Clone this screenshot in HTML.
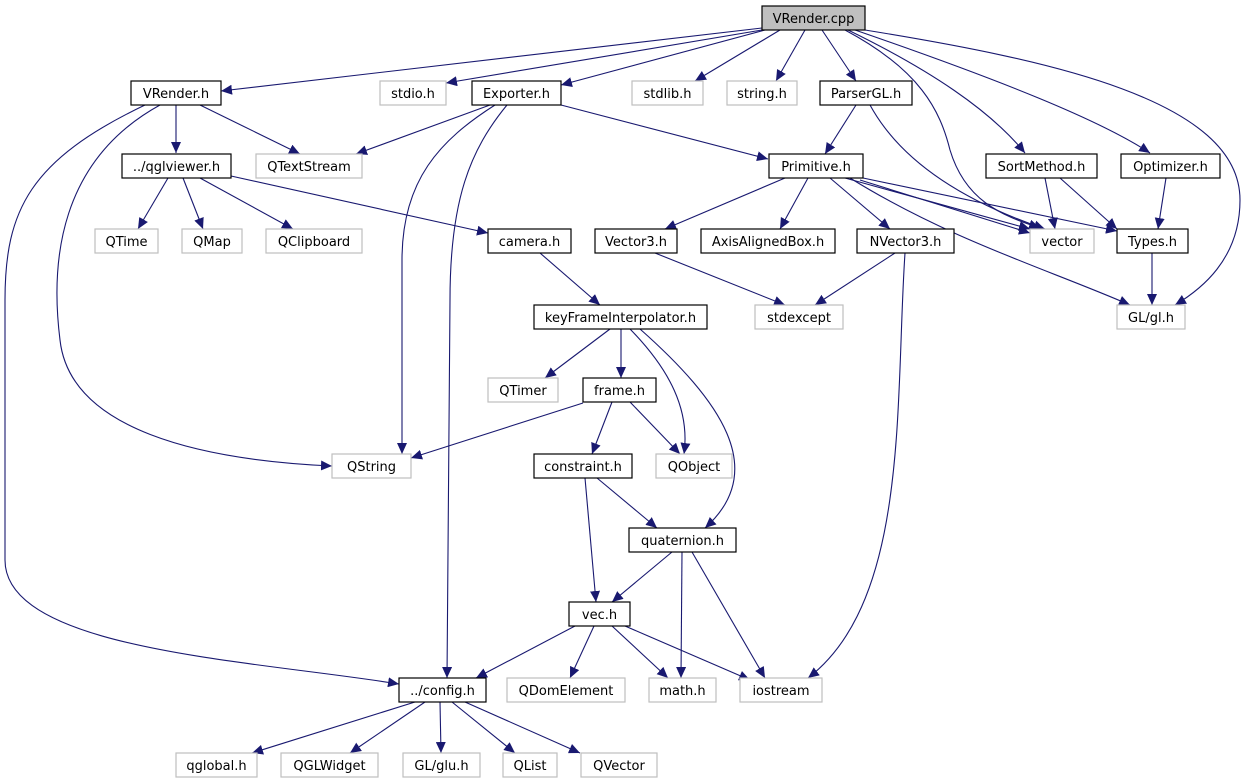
<!DOCTYPE html>
<html><head><meta charset="utf-8"><style>
html,body{margin:0;padding:0;background:#fff}
svg{display:block}
text{font-family:"DejaVu Sans","Liberation Sans",sans-serif;font-size:13px;text-anchor:middle}
.n rect{fill:#fff;stroke:#000;stroke-width:1.2}
.g rect{fill:#fff;stroke:#bfbfbf;stroke-width:1.2}
.e path{fill:none;stroke:#191970;stroke-width:1.1;marker-end:url(#a)}
</style></head><body>
<svg width="1247" height="784" viewBox="0 0 1247 784" xmlns="http://www.w3.org/2000/svg">
<defs><marker id="a" markerUnits="userSpaceOnUse" markerWidth="12" markerHeight="10" refX="11" refY="5" orient="auto"><path d="M0,0 L11,5 L0,10 Z" fill="#191970"/></marker></defs>
<g class="e">
<path d="M762,28 L221,91"/>
<path d="M762,30 L446,83"/>
<path d="M765,30 L561,85"/>
<path d="M780,30 L695,81"/>
<path d="M805,30 L776,81"/>
<path d="M822,30 L856,81"/>
<path d="M845,30 C920,70 940,110 950,150 C965,200 1000,215 1040,228"/>
<path d="M848,30 C930,70 990,110 1025,153"/>
<path d="M855,30 C1000,80 1100,120 1150,153"/>
<path d="M865,30 C1050,60 1240,100 1240,200 C1240,260 1200,290 1175,305"/>
<path d="M176,105 L176,153"/>
<path d="M200,105 L300,154"/>
<path d="M160,105 C60,160 50,260 60,340 C70,430 200,460 332,466"/>
<path d="M145,105 C30,160 5,210 5,300 L5,560 C5,650 250,660 399,684"/>
<path d="M490,105 L356,154"/>
<path d="M495,105 C440,140 402,180 402,260 L402,454"/>
<path d="M507,105 C470,150 450,200 450,300 L447,678"/>
<path d="M561,105 L768,159"/>
<path d="M856,105 L825,154"/>
<path d="M870,105 C900,160 960,200 1045,229"/>
<path d="M168,178 L138,229"/>
<path d="M183,178 L203,229"/>
<path d="M200,178 L293,229"/>
<path d="M231,176 L488,233"/>
<path d="M785,178 L665,229"/>
<path d="M808,178 L780,229"/>
<path d="M830,178 L890,229"/>
<path d="M845,178 L1030,229"/>
<path d="M860,180 L1030,233"/>
<path d="M863,178 L1117,231"/>
<path d="M850,178 C950,240 1050,270 1130,305"/>
<path d="M1045,178 L1055,229"/>
<path d="M1060,178 L1117,229"/>
<path d="M1166,178 L1158,229"/>
<path d="M1152,253 L1152,305"/>
<path d="M540,253 L600,305"/>
<path d="M655,253 L785,305"/>
<path d="M895,253 L815,305"/>
<path d="M905,253 C895,400 910,600 808,678"/>
<path d="M610,329 L545,378"/>
<path d="M621,329 L621,378"/>
<path d="M630,329 C670,370 690,410 684,454"/>
<path d="M640,329 C720,400 770,470 705,528"/>
<path d="M583,403 L411,458"/>
<path d="M612,402 L592,454"/>
<path d="M630,402 L680,454"/>
<path d="M597,478 L657,528"/>
<path d="M585,478 L596,602"/>
<path d="M672,552 L612,602"/>
<path d="M682,552 L681,678"/>
<path d="M692,552 L765,678"/>
<path d="M575,626 L476,678"/>
<path d="M594,626 L570,678"/>
<path d="M612,626 L668,678"/>
<path d="M625,626 L750,680"/>
<path d="M415,702 L252,753"/>
<path d="M425,702 L350,753"/>
<path d="M440,702 L441,753"/>
<path d="M452,702 L515,753"/>
<path d="M465,702 L580,753"/>
</g>
<g class="n"><rect x="762" y="6" width="103" height="24" style="fill:#bfbfbf"/><text x="813.5" y="23">VRender.cpp</text></g>
<g class="n"><rect x="131" y="81" width="90" height="24"/><text x="176" y="98">VRender.h</text></g>
<g class="g"><rect x="380" y="81" width="66" height="24"/><text x="413" y="98">stdio.h</text></g>
<g class="n"><rect x="472" y="81" width="89" height="24"/><text x="516.5" y="98">Exporter.h</text></g>
<g class="g"><rect x="632" y="81" width="71" height="24"/><text x="667.5" y="98">stdlib.h</text></g>
<g class="g"><rect x="727" y="81" width="70" height="24"/><text x="762" y="98">string.h</text></g>
<g class="n"><rect x="820" y="81" width="92" height="24"/><text x="866" y="98">ParserGL.h</text></g>
<g class="g"><rect x="256" y="154" width="106" height="24"/><text x="309" y="171">QTextStream</text></g>
<g class="n"><rect x="122" y="154" width="109" height="24"/><text x="176.5" y="171">../qglviewer.h</text></g>
<g class="n"><rect x="769" y="154" width="94" height="24"/><text x="816" y="171">Primitive.h</text></g>
<g class="n"><rect x="986" y="154" width="111" height="24"/><text x="1041.5" y="171">SortMethod.h</text></g>
<g class="n"><rect x="1121" y="154" width="99" height="24"/><text x="1170.5" y="171">Optimizer.h</text></g>
<g class="g"><rect x="95" y="229" width="63" height="24"/><text x="126.5" y="246">QTime</text></g>
<g class="g"><rect x="182" y="229" width="60" height="24"/><text x="212" y="246">QMap</text></g>
<g class="g"><rect x="266" y="229" width="96" height="24"/><text x="314" y="246">QClipboard</text></g>
<g class="n"><rect x="488" y="229" width="83" height="24"/><text x="529.5" y="246">camera.h</text></g>
<g class="n"><rect x="595" y="229" width="82" height="24"/><text x="636" y="246">Vector3.h</text></g>
<g class="n"><rect x="701" y="229" width="134" height="24"/><text x="768" y="246">AxisAlignedBox.h</text></g>
<g class="n"><rect x="857" y="229" width="97" height="24"/><text x="905.5" y="246">NVector3.h</text></g>
<g class="g"><rect x="1030" y="229" width="64" height="24"/><text x="1062" y="246">vector</text></g>
<g class="n"><rect x="1117" y="229" width="71" height="24"/><text x="1152.5" y="246">Types.h</text></g>
<g class="n"><rect x="534" y="305" width="173" height="24"/><text x="620.5" y="322">keyFrameInterpolator.h</text></g>
<g class="g"><rect x="755" y="305" width="88" height="24"/><text x="799" y="322">stdexcept</text></g>
<g class="g"><rect x="1117" y="305" width="68" height="24"/><text x="1151" y="322">GL/gl.h</text></g>
<g class="g"><rect x="488" y="378" width="70" height="24"/><text x="523" y="395">QTimer</text></g>
<g class="n"><rect x="583" y="378" width="73" height="24"/><text x="619.5" y="395">frame.h</text></g>
<g class="g"><rect x="332" y="454" width="79" height="24"/><text x="371.5" y="471">QString</text></g>
<g class="n"><rect x="534" y="454" width="98" height="24"/><text x="583" y="471">constraint.h</text></g>
<g class="g"><rect x="656" y="454" width="76" height="24"/><text x="694" y="471">QObject</text></g>
<g class="n"><rect x="629" y="528" width="107" height="24"/><text x="682.5" y="545">quaternion.h</text></g>
<g class="n"><rect x="569" y="602" width="61" height="24"/><text x="599.5" y="619">vec.h</text></g>
<g class="n"><rect x="399" y="678" width="87" height="24"/><text x="442.5" y="695">../config.h</text></g>
<g class="g"><rect x="507" y="678" width="118" height="24"/><text x="566" y="695">QDomElement</text></g>
<g class="g"><rect x="649" y="678" width="67" height="24"/><text x="682.5" y="695">math.h</text></g>
<g class="g"><rect x="740" y="678" width="82" height="24"/><text x="781" y="695">iostream</text></g>
<g class="g"><rect x="176" y="753" width="81" height="24"/><text x="216.5" y="770">qglobal.h</text></g>
<g class="g"><rect x="281" y="753" width="97" height="24"/><text x="329.5" y="770">QGLWidget</text></g>
<g class="g"><rect x="403" y="753" width="77" height="24"/><text x="441.5" y="770">GL/glu.h</text></g>
<g class="g"><rect x="503" y="753" width="54" height="24"/><text x="530" y="770">QList</text></g>
<g class="g"><rect x="581" y="753" width="76" height="24"/><text x="619" y="770">QVector</text></g>
</svg>
</body></html>
